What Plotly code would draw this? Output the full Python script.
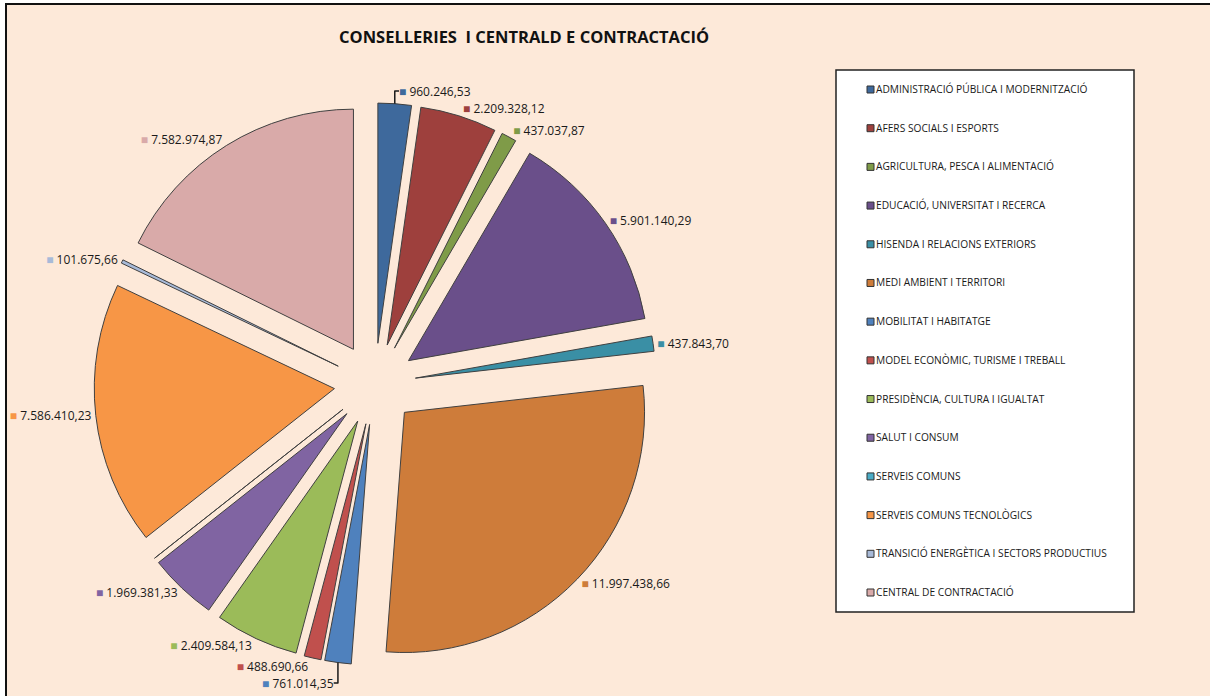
import plotly.graph_objects as go

W, H = 1210, 696

categories = [
    "ADMINISTRACIÓ PÚBLICA I MODERNITZACIÓ",
    "AFERS SOCIALS I ESPORTS",
    "AGRICULTURA, PESCA I ALIMENTACIÓ",
    "EDUCACIÓ, UNIVERSITAT I RECERCA",
    "HISENDA I RELACIONS EXTERIORS",
    "MEDI AMBIENT I TERRITORI",
    "MOBILITAT I HABITATGE",
    "MODEL ECONÒMIC, TURISME I TREBALL",
    "PRESIDÈNCIA, CULTURA I IGUALTAT",
    "SALUT I CONSUM",
    "SERVEIS COMUNS",
    "SERVEIS COMUNS TECNOLÒGICS",
    "TRANSICIÓ ENERGÈTICA I SECTORS PRODUCTIUS",
    "CENTRAL DE CONTRACTACIÓ",
]
values = [
    960246.53, 2209328.12, 437037.87, 5901140.29, 437843.70, 11997438.66,
    761014.35, 488690.66, 2409584.13, 1969381.33, 0.0, 7586410.23,
    101675.66, 7582974.87,
]
colors = [
    "#3E699C", "#9E403D", "#7F9B48", "#6A4F8A", "#3A8FA5", "#CE7C3A",
    "#4F81BD", "#C0504D", "#9BBB59", "#8064A2", "#4BACC6", "#F79646",
    "#A8BAD8", "#D9AAA9",
]
title_text = "CONSELLERIES  I CENTRALD E CONTRACTACIÓ"

def px(x):
    return x / W

def py(y):
    return 1 - y / H

templates = [
    ("" if v == 0 else
     f"<span style='color:{c}'>■</span> %{{value:,.2f}}")
    for v, c in zip(values, colors)
]

fig = go.Figure(go.Pie(
    labels=categories,
    values=values,
    sort=False,
    direction="clockwise",
    rotation=0,
    pull=[0.17] * len(values),
    marker=dict(colors=colors, line=dict(color="#404040", width=1)),
    texttemplate=templates,
    textposition="outside",
    outsidetextfont=dict(family="Open Sans", size=12, color="#1a1a1a"),
    domain=dict(x=[px(94), px(656)], y=[py(665), py(103)]),
    automargin=False,
    showlegend=False,
    hoverinfo="label+value",
))

shapes = [
    # chart area with border
    dict(type="rect", xref="paper", yref="paper", layer="below",
         x0=px(6), x1=1.01, y0=-0.01, y1=py(4),
         fillcolor="#FDE9D9", line=dict(color="#111111", width=2)),
    # legend box
    dict(type="rect", xref="paper", yref="paper", layer="below",
         x0=px(836), x1=px(1134), y0=py(612), y1=py(70),
         fillcolor="#FFFFFF", line=dict(color="#222222", width=1.5)),
]
annotations = [
    dict(text=f"<b>{title_text}</b>", x=px(524), y=py(37), xref="paper", yref="paper",
         showarrow=False, xanchor="center", yanchor="middle",
         font=dict(family="Open Sans", size=16.5, color="#111111")),
]

step = (592 - 89) / (len(categories) - 1)
for i, (cat, col) in enumerate(zip(categories, colors)):
    yc = 89 + i * step
    shapes.append(dict(type="rect", xref="paper", yref="paper",
                       x0=px(867), x1=px(874), y0=py(yc + 4), y1=py(yc - 3),
                       fillcolor=col, line=dict(color="#333333", width=1)))
    annotations.append(dict(text=cat, x=px(874), y=py(yc), xref="paper", yref="paper",
                            showarrow=False, xanchor="left", yanchor="middle",
                            font=dict(family="Open Sans", size=10.2, color="#1a1a1a")))

fig.update_layout(
    width=W, height=H,
    margin=dict(l=0, r=0, t=0, b=0, pad=0, autoexpand=False),
    paper_bgcolor="#FFFFFF",
    plot_bgcolor="rgba(0,0,0,0)",
    separators=",.",
    shapes=shapes,
    annotations=annotations,
    font=dict(family="Open Sans"),
)

fig.write_html("out.html",
               config={"displayModeBar": False},
               post_script="document.body.style.margin='0px';document.body.style.overflow='hidden';")
